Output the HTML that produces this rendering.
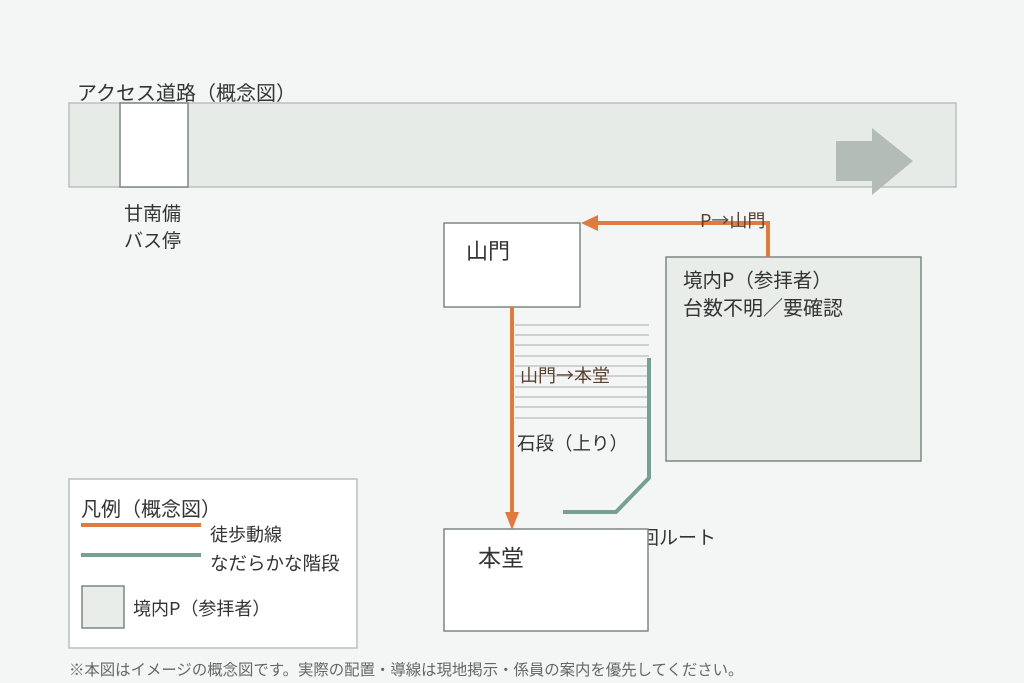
<!DOCTYPE html>
<html><head><meta charset="utf-8"><style>
html,body{margin:0;padding:0;background:#f4f6f5;}
svg{display:block;}
text{font-family:"Noto Sans CJK JP","Liberation Sans",sans-serif;fill:#333;}
</style></head><body>
<svg width="1024" height="683" viewBox="0 0 1024 683" xmlns="http://www.w3.org/2000/svg">
<rect x="0" y="0" width="1024" height="683" fill="#f4f6f5"/>
<text x="77" y="100" font-size="20">アクセス道路（概念図）</text>
<rect x="69" y="103" width="887" height="84" fill="#e6ebe8" stroke="#b9c1bd" stroke-width="1.5"/>
<rect x="120" y="103" width="68" height="84" fill="#fff" stroke="#7d8783" stroke-width="1.5"/>
<polygon points="836,141 872,141 872,128 913,161 872,195 872,181 836,181" fill="#b3bcb7"/>
<text x="124" y="220" font-size="19">甘南備</text>
<text x="124" y="247" font-size="19">バス停</text>

<g stroke="#b5bdb9" stroke-width="1.3">
<line x1="515" y1="325" x2="649" y2="325"/>
<line x1="515" y1="335" x2="649" y2="335"/>
<line x1="515" y1="345" x2="649" y2="345"/>
<line x1="515" y1="356" x2="649" y2="356"/>
<line x1="515" y1="366" x2="649" y2="366"/>
<line x1="515" y1="376" x2="649" y2="376"/>
<line x1="515" y1="387" x2="649" y2="387"/>
<line x1="515" y1="397" x2="649" y2="397"/>
<line x1="515" y1="407" x2="649" y2="407"/>
<line x1="515" y1="418" x2="649" y2="418"/>
</g>
<polyline points="649,358 649,478 616,512 563,512" fill="none" stroke="#76a095" stroke-width="4"/>
<text x="520" y="382" font-size="18" style="fill:#5a3f30">山門→本堂</text>
<text x="517" y="450" font-size="18.5">石段（上り）</text>
<text x="716" y="544" font-size="19" text-anchor="end">なだらかな迂回ルート</text>

<rect x="666" y="257" width="255" height="204" fill="#e8edea" stroke="#7d8783" stroke-width="1.5"/>
<text x="683" y="287" font-size="19.5">境内P（参拝者）</text>
<text x="683" y="315" font-size="20">台数不明／要確認</text>

<polyline points="768,257 768,223 596,223" fill="none" stroke="#e07a3e" stroke-width="4"/>
<polygon points="581,223 598,215 598,231" fill="#e07a3e"/>
<text x="700" y="227" font-size="18" style="fill:#5a3f30">P→山門</text>

<rect x="444" y="223" width="136" height="84" fill="#fff" stroke="#7d8783" stroke-width="1.5"/>
<text x="466" y="259" font-size="22">山門</text>

<line x1="512" y1="307" x2="512" y2="514" stroke="#e07a3e" stroke-width="4"/>
<polygon points="505,512 519,512 512,530" fill="#e07a3e"/>

<rect x="444" y="529" width="204" height="102" fill="#fff" stroke="#7d8783" stroke-width="1.5"/>
<text x="478" y="566" font-size="23">本堂</text>

<rect x="69" y="479" width="288" height="169" fill="#fff" stroke="#b9c1bd" stroke-width="1.5"/>
<text x="81" y="516" font-size="20">凡例（概念図）</text>
<line x1="81" y1="525" x2="201" y2="525" stroke="#e07a3e" stroke-width="4"/>
<text x="210" y="541" font-size="18">徒歩動線</text>
<line x1="81" y1="555" x2="201" y2="555" stroke="#76a095" stroke-width="4"/>
<text x="210" y="570" font-size="18.5">なだらかな階段</text>
<rect x="82" y="586" width="42" height="42" fill="#e8edea" stroke="#7d8783" stroke-width="1.5"/>
<text x="133" y="615" font-size="18">境内P（参拝者）</text>

<text x="69" y="675" font-size="15.4" style="fill:#666">※本図はイメージの概念図です。実際の配置・導線は現地掲示・係員の案内を優先してください。</text>
</svg>
</body></html>
